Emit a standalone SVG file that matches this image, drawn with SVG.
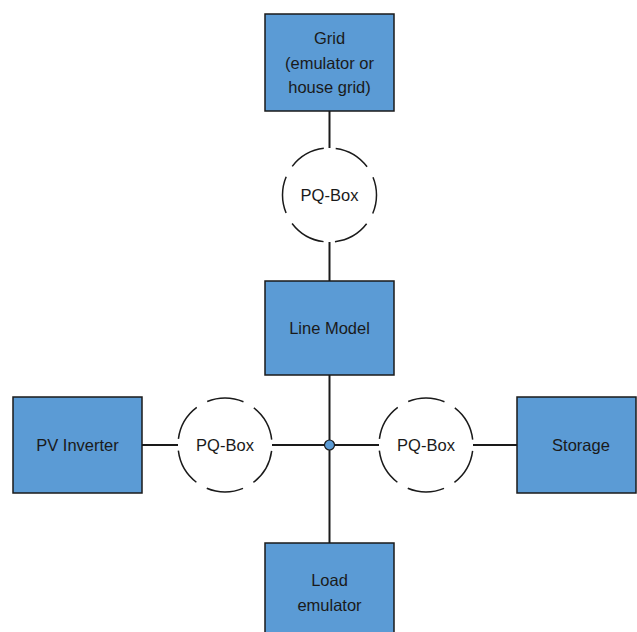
<svg xmlns="http://www.w3.org/2000/svg" width="637" height="632" viewBox="0 0 637 632">
<style>
.box{fill:#5b9bd5;stroke:#1a1a1a;stroke-width:1.5}
.pq{fill:none;stroke:#1a1a1a;stroke-width:1.5;stroke-dasharray:37.2 12.02;stroke-dashoffset:43.21}
.ln{stroke:#1a1a1a;stroke-width:2;fill:none}
text{font-family:"Liberation Sans",Arial,sans-serif;font-size:16.5px;fill:#1a1a1a;text-anchor:middle}
</style>
<rect width="637" height="632" fill="#fff"/>
<g id="connectors">
<line class="ln" x1="329.5" y1="111" x2="329.5" y2="148"/>
<line class="ln" x1="329.5" y1="242" x2="329.5" y2="281"/>
<line class="ln" x1="329.5" y1="375" x2="329.5" y2="543"/>
<line class="ln" x1="142" y1="445" x2="178" y2="445"/>
<line class="ln" x1="272" y1="445" x2="379" y2="445"/>
<line class="ln" x1="473" y1="445" x2="517" y2="445"/>
<circle cx="329.5" cy="445" r="5" fill="#5b9bd5" stroke="#1a1a1a" stroke-width="1.2"/>
</g>
<g id="grid">
<rect class="box" x="265" y="14" width="129" height="97"/>
<text x="329.5" y="44">Grid</text>
<text x="329.5" y="69">(emulator or</text>
<text x="329.5" y="93">house grid)</text>
</g>
<g id="pq-top">
<circle class="pq" cx="329.5" cy="195" r="47" transform="rotate(90 329.5 195)"/>
<text x="329.5" y="201">PQ-Box</text>
</g>
<g id="line-model">
<rect class="box" x="265" y="281" width="129" height="94"/>
<text x="329.5" y="334">Line Model</text>
</g>
<g id="pq-left">
<circle class="pq" cx="225" cy="445" r="47"/>
<text x="225" y="451">PQ-Box</text>
</g>
<g id="pq-right">
<circle class="pq" cx="426" cy="445" r="47"/>
<text x="426" y="451">PQ-Box</text>
</g>
<g id="pv-inverter">
<rect class="box" x="13" y="397" width="129" height="96"/>
<text x="77.5" y="451">PV Inverter</text>
</g>
<g id="storage">
<rect class="box" x="517" y="397" width="119" height="96"/>
<text x="581" y="451">Storage</text>
</g>
<g id="load">
<rect class="box" x="265" y="543" width="129" height="100"/>
<text x="329.5" y="586">Load</text>
<text x="329.5" y="611">emulator</text>
</g>
</svg>
